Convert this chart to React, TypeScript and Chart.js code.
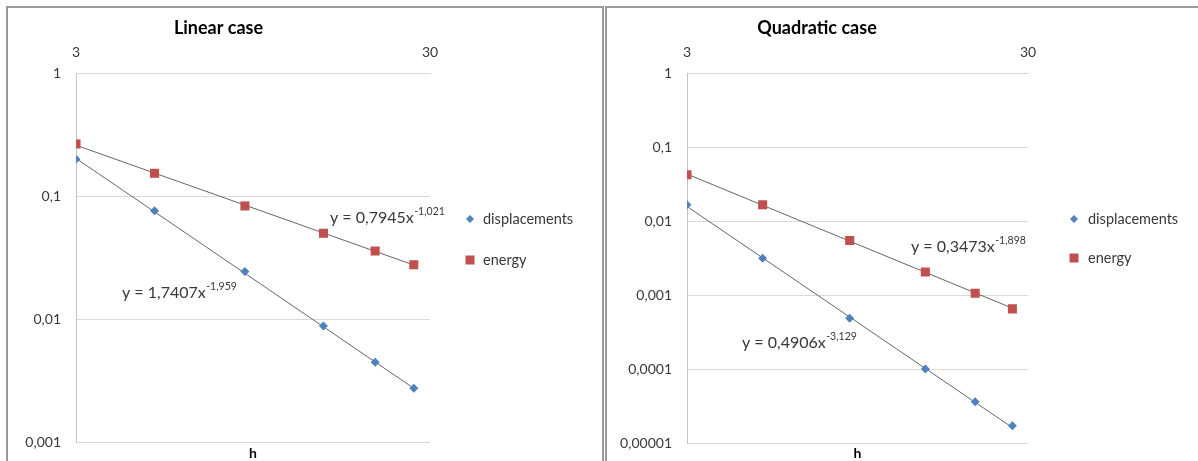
import React, { useEffect, useRef } from "react";
import { Chart, registerables } from "chart.js";

Chart.register(...registerables);

// ---- data ----
const hValues = [3, 5, 9, 15, 21, 27];
const linearDisplacements = [0.199, 0.0759, 0.0243, 0.00877, 0.00445, 0.00273];
const linearEnergy = [0.265, 0.153, 0.083, 0.0498, 0.0357, 0.0276];
const quadraticDisplacements = [0.0166, 0.00316, 0.000489, 0.000101, 0.0000365, 0.0000173];
const quadraticEnergy = [0.0422, 0.0166, 0.00547, 0.00205, 0.00106, 0.000653];

// power-law trendlines y = a * x^b (as shown on the chart)
const linearDispFit = { a: 1.7407, b: -1.959 };
const linearEnergyFit = { a: 0.7945, b: -1.021 };
const quadraticDispFit = { a: 0.4906, b: -3.129 };
const quadraticEnergyFit = { a: 0.3473, b: -1.898 };

const xTickValues = [3, 30];
const xTickLabels = ["3", "30"];
const linearYTicks = [0.001, 0.01, 0.1, 1];
const linearYTickLabels = ["0,001", "0,01", "0,1", "1"];
const quadraticYTicks = [0.00001, 0.0001, 0.001, 0.01, 0.1, 1];
const quadraticYTickLabels = ["0,00001", "0,0001", "0,001", "0,01", "0,1", "1"];

const seriesNames = ["displacements", "energy"];
const BLUE = "#4F81BD";
const RED = "#C0504D";
const TEXT = "#383838";
const FONT = "Lato, 'Open Sans', sans-serif";

type Fit = { a: number; b: number };
type EqLabel = { x: number; y: number; coef: string; exp: string };

function fitPoints(f: Fit) {
  const x0 = hValues[0];
  const x1 = hValues[hValues.length - 1];
  return [
    { x: x0, y: f.a * Math.pow(x0, f.b) },
    { x: x1, y: f.a * Math.pow(x1, f.b) },
  ];
}

function makeOverlay(eqs: EqLabel[], legend: { x: number; textX: number; y1: number; y2: number }) {
  return {
    id: "overlay" + Math.random().toString(36).slice(2),
    afterDraw(chart: any) {
      const ctx = chart.ctx as CanvasRenderingContext2D;
      ctx.save();
      ctx.fillStyle = TEXT;
      ctx.textBaseline = "middle";
      ctx.textAlign = "left";
      for (const e of eqs) {
        ctx.font = `16px ${FONT}`;
        const main = "y = " + e.coef + "x";
        ctx.fillText(main, e.x, e.y);
        const w = ctx.measureText(main).width;
        ctx.font = `10.5px ${FONT}`;
        ctx.fillText(e.exp, e.x + w + 0.5, e.y - 6);
      }
      // legend
      ctx.font = `14.5px ${FONT}`;
      ctx.fillStyle = BLUE;
      ctx.beginPath();
      const r = 4;
      ctx.moveTo(legend.x, legend.y1 - r);
      ctx.lineTo(legend.x + r, legend.y1);
      ctx.lineTo(legend.x, legend.y1 + r);
      ctx.lineTo(legend.x - r, legend.y1);
      ctx.closePath();
      ctx.fill();
      ctx.fillStyle = RED;
      ctx.fillRect(legend.x - 4.5, legend.y2 - 4.5, 9, 9);
      ctx.fillStyle = TEXT;
      ctx.fillText(seriesNames[0], legend.textX, legend.y1);
      ctx.fillText(seriesNames[1], legend.textX, legend.y2);
      ctx.restore();
    },
  };
}

type PanelProps = {
  title: string;
  width: number;
  disp: number[];
  energy: number[];
  dispFit: Fit;
  energyFit: Fit;
  yTicks: number[];
  yTickLabels: string[];
  yAxisWidth: number;
  padRight: number;
  bottomHeight: number;
  eqs: EqLabel[];
  legend: { x: number; textX: number; y1: number; y2: number };
};

function Panel(p: PanelProps) {
  const ref = useRef<HTMLCanvasElement>(null);
  useEffect(() => {
    if (!ref.current) return;
    const chart = new Chart(ref.current, {
      type: "scatter",
      data: {
        datasets: [
          {
            label: seriesNames[0] + " trend",
            data: fitPoints(p.dispFit),
            showLine: true,
            borderColor: "#666666",
            borderWidth: 1,
            pointRadius: 0,
            order: 3,
          },
          {
            label: seriesNames[1] + " trend",
            data: fitPoints(p.energyFit),
            showLine: true,
            borderColor: "#666666",
            borderWidth: 1,
            pointRadius: 0,
            order: 3,
          },
          {
            label: seriesNames[0],
            data: hValues.map((h, i) => ({ x: h, y: p.disp[i] })),
            pointStyle: "rectRot",
            pointRadius: 4.5,
            backgroundColor: BLUE,
            borderColor: BLUE,
            borderWidth: 0,
            order: 1,
          },
          {
            label: seriesNames[1],
            data: hValues.map((h, i) => ({ x: h, y: p.energy[i] })),
            pointStyle: "rect",
            pointRadius: 6.4,
            backgroundColor: RED,
            borderColor: RED,
            borderWidth: 0,
            order: 1,
          },
        ],
      },
      options: {
        animation: false,
        responsive: false,
        layout: { autoPadding: false, padding: { left: 0, right: p.padRight, top: 0, bottom: 0 } },
        plugins: {
          legend: { display: false },
          tooltip: { enabled: false },
          title: {
            display: true,
            text: p.title,
            color: "#000",
            font: { family: FONT, size: 18, weight: "bold", lineHeight: 1.2 },
            padding: { top: 17.2, bottom: 0 },
          },
        },
        scales: {
          x: {
            type: "logarithmic",
            position: "top",
            min: 3,
            max: 30,
            afterBuildTicks: (s: any) => {
              s.ticks = xTickValues.map((v) => ({ value: v }));
            },
            afterFit: (s: any) => {
              s.height = 73 - 38.8;
            },
            ticks: {
              padding: 12,
              color: TEXT,
              font: { family: FONT, size: 14 },
              maxRotation: 0,
              autoSkip: false,
              callback: (_v: any, i: number) => xTickLabels[i],
            },
            grid: { display: false, drawTicks: false },
            border: { display: true, color: "#d9d9d9" },
          },
          x2: {
            type: "logarithmic",
            position: "bottom",
            min: 3,
            max: 30,
            afterFit: (s: any) => {
              s.height = p.bottomHeight;
            },
            ticks: { display: false },
            grid: { display: false, drawTicks: false },
            border: { display: false },
            title: {
              display: true,
              text: "h",
              color: "#000",
              font: { family: FONT, size: 14, weight: "bold", lineHeight: 1.1 },
              padding: { top: 0, bottom: 0 },
            },
          },
          y: {
            type: "logarithmic",
            min: p.yTicks[0],
            max: p.yTicks[p.yTicks.length - 1],
            afterBuildTicks: (s: any) => {
              s.ticks = p.yTicks.map((v) => ({ value: v }));
            },
            afterFit: (s: any) => {
              s.width = p.yAxisWidth;
            },
            ticks: {
              padding: 3,
              color: TEXT,
              font: { family: FONT, size: 14 },
              autoSkip: false,
              callback: (_v: any, i: number) => p.yTickLabels[i],
            },
            grid: {
              color: "#d9d9d9",
              drawTicks: true,
              tickLength: 12,
              tickColor: "rgba(0,0,0,0)",
              lineWidth: 1,
            },
            border: { display: true, color: "#c4c4c4" },
          },
        },
      } as any,
      plugins: [makeOverlay(p.eqs, p.legend)],
    });
    return () => chart.destroy();
  }, []);
  return (
    <canvas
      ref={ref}
      width={p.width}
      height={461}
      style={{ display: "block", width: p.width, height: 461 }}
    />
  );
}

export default function App() {
  useEffect(() => {
    document.body.style.margin = "0";
    document.body.style.overflow = "hidden";
  }, []);
  return (
    <div style={{ position: "relative", width: 1198, height: 461, overflow: "hidden", background: "#fff" }}>
      <div style={{ position: "absolute", left: 7, top: 0 }}>
        <Panel
          title="Linear case"
          width={596}
          disp={linearDisplacements}
          energy={linearEnergy}
          dispFit={linearDispFit}
          energyFit={linearEnergyFit}
          yTicks={linearYTicks}
          yTickLabels={linearYTickLabels}
          yAxisWidth={69}
          padRight={173}
          bottomHeight={19}
          eqs={[
            { x: 323, y: 218, coef: "0,7945", exp: "-1,021" },
            { x: 115, y: 293, coef: "1,7407", exp: "-1,959" },
          ]}
          legend={{ x: 463, textX: 476, y1: 219, y2: 260 }}
        />
      </div>
      <div style={{ position: "absolute", left: 606, top: 0 }}>
        <Panel
          title="Quadratic case"
          width={592}
          disp={quadraticDisplacements}
          energy={quadraticEnergy}
          dispFit={quadraticDispFit}
          energyFit={quadraticEnergyFit}
          yTicks={quadraticYTicks}
          yTickLabels={quadraticYTickLabels}
          yAxisWidth={81}
          padRight={170}
          bottomHeight={17.7}
          eqs={[
            { x: 305, y: 247, coef: "0,3473", exp: "-1,898" },
            { x: 136, y: 343, coef: "0,4906", exp: "-3,129" },
          ]}
          legend={{ x: 468, textX: 482, y1: 219, y2: 258 }}
        />
      </div>
      <div
        style={{
          position: "absolute",
          left: 6,
          top: 6,
          width: 598,
          height: 470,
          boxSizing: "border-box",
          border: "2px solid #9a9a9a",
          borderBottom: "none",
          pointerEvents: "none",
        }}
      />
      <div
        style={{
          position: "absolute",
          left: 605,
          top: 6,
          width: 600,
          height: 470,
          boxSizing: "border-box",
          border: "2px solid #9a9a9a",
          borderBottom: "none",
          borderRight: "none",
          pointerEvents: "none",
        }}
      />
    </div>
  );
}
